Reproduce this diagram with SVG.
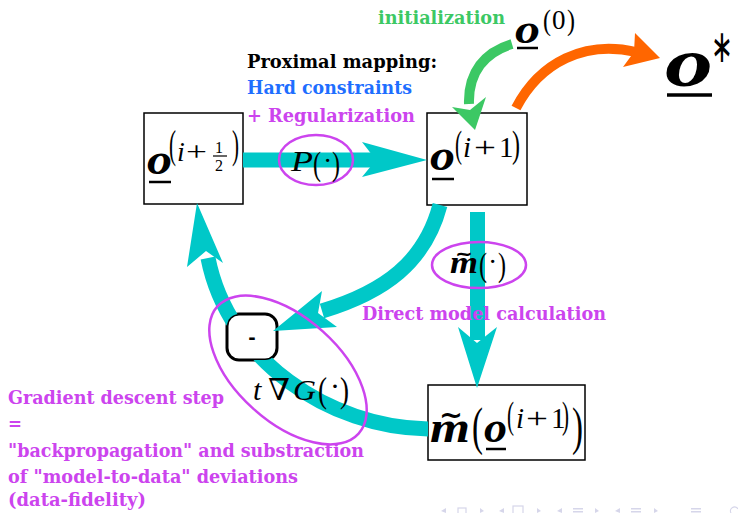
<svg xmlns="http://www.w3.org/2000/svg" width="738" height="513" viewBox="0 0 738 513">
<style>
.box{fill:#fff;stroke:#000;stroke-width:1.5}
.cy{fill:none;stroke:#00c8c8;stroke-width:15}
.cyf{fill:#00c8c8}
.ell{fill:none;stroke:#cc44ee;stroke-width:2.5}
.lbl{font-family:"DejaVu Serif Condensed","DejaVu Serif",serif;font-weight:bold;font-size:18.5px}
.pur{fill:#cc44ee}
.m{font-family:"Liberation Serif","DejaVu Serif",serif;fill:#000}
.it{font-style:italic}
.bo{font-family:"Liberation Serif","DejaVu Serif",serif;font-weight:bold;font-style:italic;fill:#000}
.tl{font-family:"DejaVu Sans",sans-serif;font-weight:bold;fill:#000}
.ul{stroke:#000;stroke-width:2.5}
.nav{fill:#d6d6ea}
</style>
<defs>
<mask id="cutbox">
<rect x="0" y="0" width="738" height="513" fill="#fff"/>
<rect x="227" y="314" width="50" height="46" rx="12" fill="#000"/>
</mask>
</defs>
<rect width="738" height="513" fill="#fff"/>

<g id="node-half">
<rect class="box" x="144" y="113" width="99" height="91"/>
<text class="bo" x="147" y="174" font-size="44" textLength="25" lengthAdjust="spacingAndGlyphs">o</text>
<line class="ul" x1="149" y1="182" x2="171" y2="182"/>
<text class="m" x="169" y="158" font-size="40" textLength="7" lengthAdjust="spacingAndGlyphs">(</text>
<text class="m it" x="177" y="161" font-size="28">i</text>
<text class="m" x="186" y="161" font-size="28" textLength="21" lengthAdjust="spacingAndGlyphs">+</text>
<text class="m" x="215" y="153" font-size="16">1</text>
<line x1="213" y1="156" x2="227" y2="156" stroke="#000" stroke-width="1.2"/>
<text class="m" x="215" y="171" font-size="16">2</text>
<text class="m" x="232" y="158" font-size="40" textLength="7" lengthAdjust="spacingAndGlyphs">)</text>
</g>

<g id="node-next">
<rect class="box" x="427" y="113" width="100" height="92"/>
<text class="bo" x="430" y="170" font-size="44" textLength="25" lengthAdjust="spacingAndGlyphs">o</text>
<line class="ul" x1="432" y1="179" x2="454" y2="179"/>
<text class="m" x="455" y="157" font-size="38" textLength="7" lengthAdjust="spacingAndGlyphs">(</text>
<text class="m it" x="463" y="157" font-size="29">i</text>
<text class="m" x="474" y="157" font-size="29" textLength="22" lengthAdjust="spacingAndGlyphs">+</text>
<text class="m" x="499" y="157" font-size="29">1</text>
<text class="m" x="512" y="157" font-size="38" textLength="8" lengthAdjust="spacingAndGlyphs">)</text>
</g>

<g id="node-model">
<rect class="box" x="428" y="385" width="157" height="75"/>
<text class="tl" x="439" y="424" font-size="26" textLength="24" lengthAdjust="spacingAndGlyphs">~</text>
<text class="bo" x="430" y="442" font-size="44" textLength="40" lengthAdjust="spacingAndGlyphs">m</text>
<text class="m" x="472" y="444" font-size="52" textLength="11" lengthAdjust="spacingAndGlyphs">(</text>
<text class="bo" x="484" y="442" font-size="44" textLength="23" lengthAdjust="spacingAndGlyphs">o</text>
<line class="ul" x1="486" y1="449" x2="506" y2="449"/>
<text class="m" x="507" y="428" font-size="38" textLength="7" lengthAdjust="spacingAndGlyphs">(</text>
<text class="m it" x="516" y="428" font-size="29">i</text>
<text class="m" x="526" y="428" font-size="29" textLength="22" lengthAdjust="spacingAndGlyphs">+</text>
<text class="m" x="551" y="428" font-size="29">1</text>
<text class="m" x="562" y="428" font-size="38" textLength="7" lengthAdjust="spacingAndGlyphs">)</text>
<text class="m" x="572" y="444" font-size="52" textLength="11" lengthAdjust="spacingAndGlyphs">)</text>
</g>

<g id="node-minus">
<rect x="227" y="314" width="50" height="46" rx="12" fill="#fff" stroke="#000" stroke-width="3"/>
<text x="252" y="344" font-family="DejaVu Sans, sans-serif" font-weight="bold" font-size="18" text-anchor="middle" fill="#000">-</text>
</g>

<g id="connectors">
<path class="cy" d="M243 160 H380"/>
<polygon class="cyf" points="427,160 362,142 376,160 362,177"/>
<path class="cy" d="M477.5 212 V340"/>
<polygon class="cyf" points="477,388 497,327 477,343 458,327"/>
<path class="cy" d="M440 205 C425 262 385 292 322 311"/>
<polygon class="cyf" points="273,331 322,291 318,313 337,327"/>
<path class="cy" d="M428 429 C330 428 228 360 208 258" mask="url(#cutbox)"/>
<polygon class="cyf" points="197,203 223,263 206,251 187,267"/>
<path d="M512 44 C485 52 468 72 469 104" fill="none" stroke="#3cc864" stroke-width="10"/>
<polygon fill="#3cc864" points="475,130 452,107 470,110 486,97"/>
<path d="M516 108 C540 62 585 40 636 52" fill="none" stroke="#ff6600" stroke-width="10"/>
<polygon fill="#ff6600" points="660,58 635,33 634,52 623,67"/>
</g>

<g id="label-prox">
<ellipse class="ell" cx="316" cy="160" rx="37" ry="25"/>
<text class="m it" x="291" y="171" font-size="30" textLength="22" lengthAdjust="spacingAndGlyphs">P</text>
<text class="m" x="313" y="175" font-size="33" textLength="8" lengthAdjust="spacingAndGlyphs">(</text>
<text class="m" x="323" y="170" font-size="28">·</text>
<text class="m" x="332" y="175" font-size="33" textLength="8" lengthAdjust="spacingAndGlyphs">)</text>
</g>

<g id="label-model">
<ellipse class="ell" cx="479" cy="265" rx="47" ry="23"/>
<text class="tl" x="455" y="260" font-size="20" textLength="18" lengthAdjust="spacingAndGlyphs">~</text>
<text class="bo" x="450" y="273" font-size="32" textLength="28" lengthAdjust="spacingAndGlyphs">m</text>
<text class="m" x="479" y="276" font-size="33" textLength="8" lengthAdjust="spacingAndGlyphs">(</text>
<text class="m" x="488" y="271" font-size="28">·</text>
<text class="m" x="498" y="276" font-size="33" textLength="8" lengthAdjust="spacingAndGlyphs">)</text>
</g>

<g id="label-grad">
<ellipse class="ell" cx="288" cy="370" rx="95" ry="52" transform="rotate(42 288 370)"/>
<text class="m it" x="253" y="400" font-size="30">t</text>
<text class="m" x="268" y="400" font-size="30" textLength="22" lengthAdjust="spacingAndGlyphs">∇</text>
<text class="m it" x="293" y="400" font-size="30" textLength="23" lengthAdjust="spacingAndGlyphs">G</text>
<text class="m" x="318" y="402" font-size="36" textLength="9" lengthAdjust="spacingAndGlyphs">(</text>
<text class="m" x="330" y="396" font-size="30">·</text>
<text class="m" x="340" y="402" font-size="36" textLength="9" lengthAdjust="spacingAndGlyphs">)</text>
</g>

<g id="init">
<text class="lbl" x="378" y="24" fill="#3cc864" textLength="127" lengthAdjust="spacingAndGlyphs">initialization</text>
<text class="bo" x="515" y="43" font-size="40" textLength="25" lengthAdjust="spacingAndGlyphs">o</text>
<line class="ul" x1="517" y1="48" x2="538" y2="48"/>
<text class="m" x="543" y="30" font-size="30" textLength="8" lengthAdjust="spacingAndGlyphs">(</text>
<text class="m" x="552" y="29" font-size="27">0</text>
<text class="m" x="567" y="30" font-size="30" textLength="8" lengthAdjust="spacingAndGlyphs">)</text>
</g>

<g id="result">
<text class="bo" x="665" y="86" font-size="70" textLength="48" lengthAdjust="spacingAndGlyphs">o</text>
<line x1="667" y1="95" x2="712" y2="95" stroke="#000" stroke-width="3.5"/>
<text x="711" y="62" font-family="DejaVu Sans, sans-serif" font-size="46" fill="#000" textLength="22" lengthAdjust="spacingAndGlyphs">∗</text>
</g>

<g id="texts">
<text class="lbl" x="247" y="68" fill="#000" textLength="190" lengthAdjust="spacingAndGlyphs">Proximal mapping:</text>
<text class="lbl" x="247" y="94" fill="#1e6eff" textLength="165" lengthAdjust="spacingAndGlyphs">Hard constraints</text>
<text class="lbl pur" x="247" y="122" textLength="168" lengthAdjust="spacingAndGlyphs">+ Regularization</text>
<text class="lbl pur" x="362" y="320" textLength="244" lengthAdjust="spacingAndGlyphs">Direct model calculation</text>
<text class="lbl pur" x="8" y="404" textLength="216" lengthAdjust="spacingAndGlyphs">Gradient descent step</text>
<text class="lbl pur" x="8" y="430">=</text>
<text class="lbl pur" x="8" y="457" textLength="356" lengthAdjust="spacingAndGlyphs">"backpropagation" and substraction</text>
<text class="lbl pur" x="8" y="483" textLength="290" lengthAdjust="spacingAndGlyphs">of "model-to-data" deviations</text>
<text class="lbl pur" x="8" y="506" textLength="138" lengthAdjust="spacingAndGlyphs">(data-fidelity)</text>
</g>

<g id="nav" class="nav">
<polygon points="441,511 446,508 446,513"/>
<rect x="458" y="508" width="8" height="6" fill="none" stroke="#d6d6ea" stroke-width="1.2"/>
<polygon points="480,508 484,511 480,513"/>
<polygon points="499,511 504,508 504,513"/>
<rect x="513" y="506" width="10" height="8" fill="none" stroke="#d6d6ea" stroke-width="1.2"/>
<polygon points="537,508 541,511 537,513"/>
<polygon points="557,511 562,508 562,513"/>
<rect x="573" y="508" width="10" height="1.5"/><rect x="573" y="511" width="10" height="1.5"/>
<polygon points="595,508 599,511 595,513"/>
<polygon points="615,511 620,508 620,513"/>
<rect x="631" y="508" width="10" height="1.5"/><rect x="631" y="511" width="10" height="1.5"/>
<polygon points="654,508 658,511 654,513"/>
<rect x="691" y="508" width="10" height="1.5"/><rect x="691" y="511" width="10" height="1.5"/>
<path d="M731 513 A4 4 0 0 1 738 509" fill="none" stroke="#d6d6ea" stroke-width="1.2"/>
</g>
</svg>
